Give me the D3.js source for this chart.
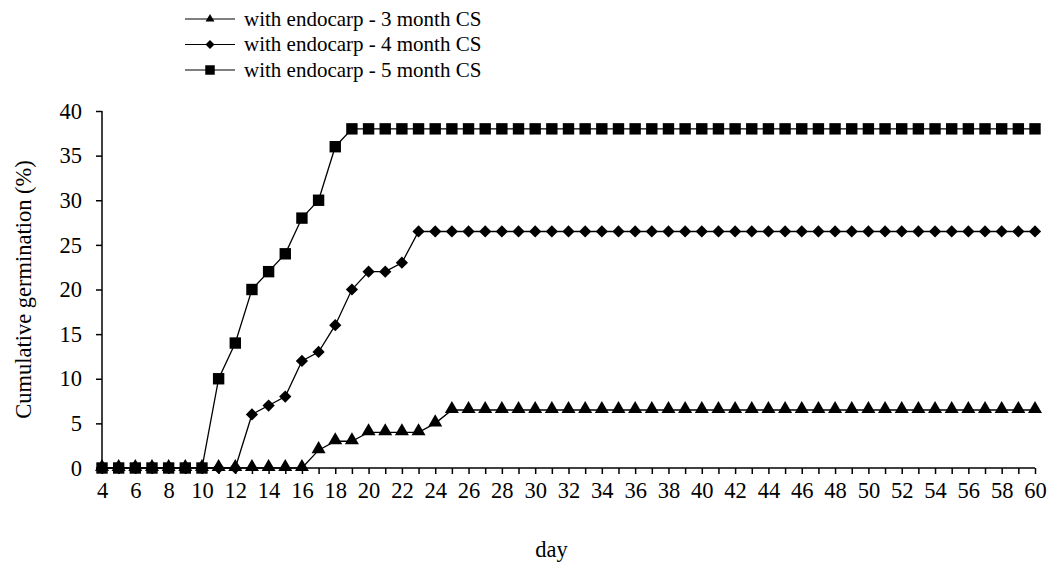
<!DOCTYPE html>
<html>
<head>
<meta charset="utf-8">
<script src="https://cdn.jsdelivr.net/npm/d3@7"></script>
<style>
  body { margin: 0; background: #fff; }
</style>
</head>
<body>
<div id="chart"></div>
<script>
// days 4..60
var days = [4,5,6,7,8,9,10,11,12,13,14,15,16,17,18,19,20,21,22,23,24,25,26,27,28,29,30,31,32,
    33,34,35,36,37,38,39,40,41,42,43,44,45,46,47,48,49,50,51,52,53,54,55,56,57,58,59,60];

var cs3 = [0,0,0,0,0,0,0,0,0,0,0,0,0,2,3,3,4,4,4,4,5,6.5,6.5,6.5,6.5,6.5,6.5,6.5,6.5,
    6.5,6.5,6.5,6.5,6.5,6.5,6.5,6.5,6.5,6.5,6.5,6.5,6.5,6.5,6.5,6.5,6.5,6.5,6.5,6.5,6.5,6.5,6.5,6.5,6.5,6.5,6.5,6.5];
var cs4 = [0,0,0,0,0,0,0,0,0,6,7,8,12,13,16,20,22,22,23,26.5,26.5,26.5,26.5,26.5,26.5,26.5,26.5,26.5,26.5,
    26.5,26.5,26.5,26.5,26.5,26.5,26.5,26.5,26.5,26.5,26.5,26.5,26.5,26.5,26.5,26.5,26.5,26.5,26.5,26.5,26.5,26.5,26.5,26.5,26.5,26.5,26.5,26.5];
var cs5 = [0,0,0,0,0,0,0,10,14,20,22,24,28,30,36,38,38,38,38,38,38,38,38,38,38,38,38,38,38,
    38,38,38,38,38,38,38,38,38,38,38,38,38,38,38,38,38,38,38,38,38,38,38,38,38,38,38,38];

var seriesNames = ["with endocarp - 3 month CS", "with endocarp - 4 month CS", "with endocarp - 5 month CS"];
var yTicks = [0,5,10,15,20,25,30,35,40];

var FONT = "'Liberation Serif', 'Times New Roman', serif";

var W = 1051, H = 565;
var margin = {top: 111, right: 16, bottom: 97, left: 102},
    width = 1035 - margin.left,
    height = 468 - margin.top;

var svg = d3.select("#chart").append("svg")
    .attr("width", W)
    .attr("height", H)
    .style("font-family", FONT);

var g = svg.append("g")
    .attr("transform", "translate(" + margin.left + "," + margin.top + ")");

var x = d3.scaleLinear().domain([4, 60]).range([0, width]);
var y = d3.scaleLinear().domain([0, 40]).range([height, 0]);

var xAxis = d3.axisBottom(x)
    .tickValues(days)
    .tickSize(6)
    .tickFormat(function(d) { return d % 2 === 0 ? d : ""; });
var yAxis = d3.axisLeft(y).tickValues(yTicks).tickSize(6);

var xg = g.append("g")
    .attr("class", "x axis")
    .attr("transform", "translate(0," + height + ")")
    .call(xAxis);
var yg = g.append("g")
    .attr("class", "y axis")
    .call(yAxis);

[xg, yg].forEach(function(ax) {
    ax.attr("font-family", null).attr("font-size", null);
    ax.selectAll("path, line").attr("stroke", "#000").attr("stroke-width", 1.5);
    ax.selectAll("text")
        .style("font-family", FONT)
        .style("font-size", "22.5px")
        .attr("fill", "#000");
});
xg.select(".domain").attr("d", "M0,0H" + width);
yg.select(".domain").attr("d", "M0," + height + "V0");
xg.selectAll("text").attr("dy", "0.71em").attr("y", 14);
yg.selectAll("text").attr("x", -20);

// diamond drawn as a square turned 45 degrees
var diamond = {
    draw: function(ctx, size) {
        var r = Math.sqrt(size / 2);
        ctx.moveTo(0, -r);
        ctx.lineTo(r, 0);
        ctx.lineTo(0, r);
        ctx.lineTo(-r, 0);
        ctx.closePath();
    }
};

var sym = {
    tri: d3.symbol().type(d3.symbolTriangle).size(85),
    dia: d3.symbol().type(diamond).size(75),
    sq: d3.symbol().type(d3.symbolSquare).size(130)
};

var series = [
    {name: seriesNames[0], values: cs3, shape: "tri"},
    {name: seriesNames[1], values: cs4, shape: "dia"},
    {name: seriesNames[2], values: cs5, shape: "sq"}
];

var line = d3.line()
    .x(function(d, i) { return x(days[i]); })
    .y(function(d) { return y(d); });

series.forEach(function(s) {
    g.append("path")
        .attr("d", line(s.values))
        .attr("fill", "none")
        .attr("stroke", "#000")
        .attr("stroke-width", 1.3);
});

series.forEach(function(s) {
    g.selectAll(".pt-" + s.shape)
        .data(s.values)
        .enter()
        .append("path")
        .attr("class", "pt-" + s.shape)
        .attr("d", sym[s.shape])
        .attr("transform", function(d, i) {
            var ty = s.shape === "tri" ? y(d) - 1 : y(d);
            return "translate(" + x(days[i]) + "," + ty + ")";
        })
        .attr("fill", "#000");
});

// legend
var legSym = {
    tri: d3.symbol().type(d3.symbolTriangle).size(34),
    dia: d3.symbol().type(diamond).size(40),
    sq: d3.symbol().type(d3.symbolSquare).size(90)
};
var legend = svg.append("g");
series.forEach(function(s, i) {
    var ly = 19 + i * 25.5;
    legend.append("line")
        .attr("x1", 185).attr("x2", 235)
        .attr("y1", ly).attr("y2", ly)
        .attr("stroke", "#000").attr("stroke-width", 1.2);
    legend.append("path")
        .attr("d", legSym[s.shape])
        .attr("transform", "translate(210," + ly + ")")
        .attr("fill", "#000");
    legend.append("text")
        .attr("x", 244).attr("y", ly)
        .attr("dy", "0.33em")
        .style("font-family", FONT)
        .style("font-size", "21px")
        .text(s.name);
});

svg.append("text")
    .attr("transform", "translate(31," + (margin.top + height / 2) + ") rotate(-90)")
    .attr("text-anchor", "middle")
    .style("font-family", FONT)
    .style("font-size", "22.5px")
    .text("Cumulative germination (%)");

svg.append("text")
    .attr("x", margin.left + width / 2 - 17)
    .attr("y", 557)
    .attr("text-anchor", "middle")
    .style("font-family", FONT)
    .style("font-size", "22.5px")
    .text("day");
</script>
</body>
</html>
